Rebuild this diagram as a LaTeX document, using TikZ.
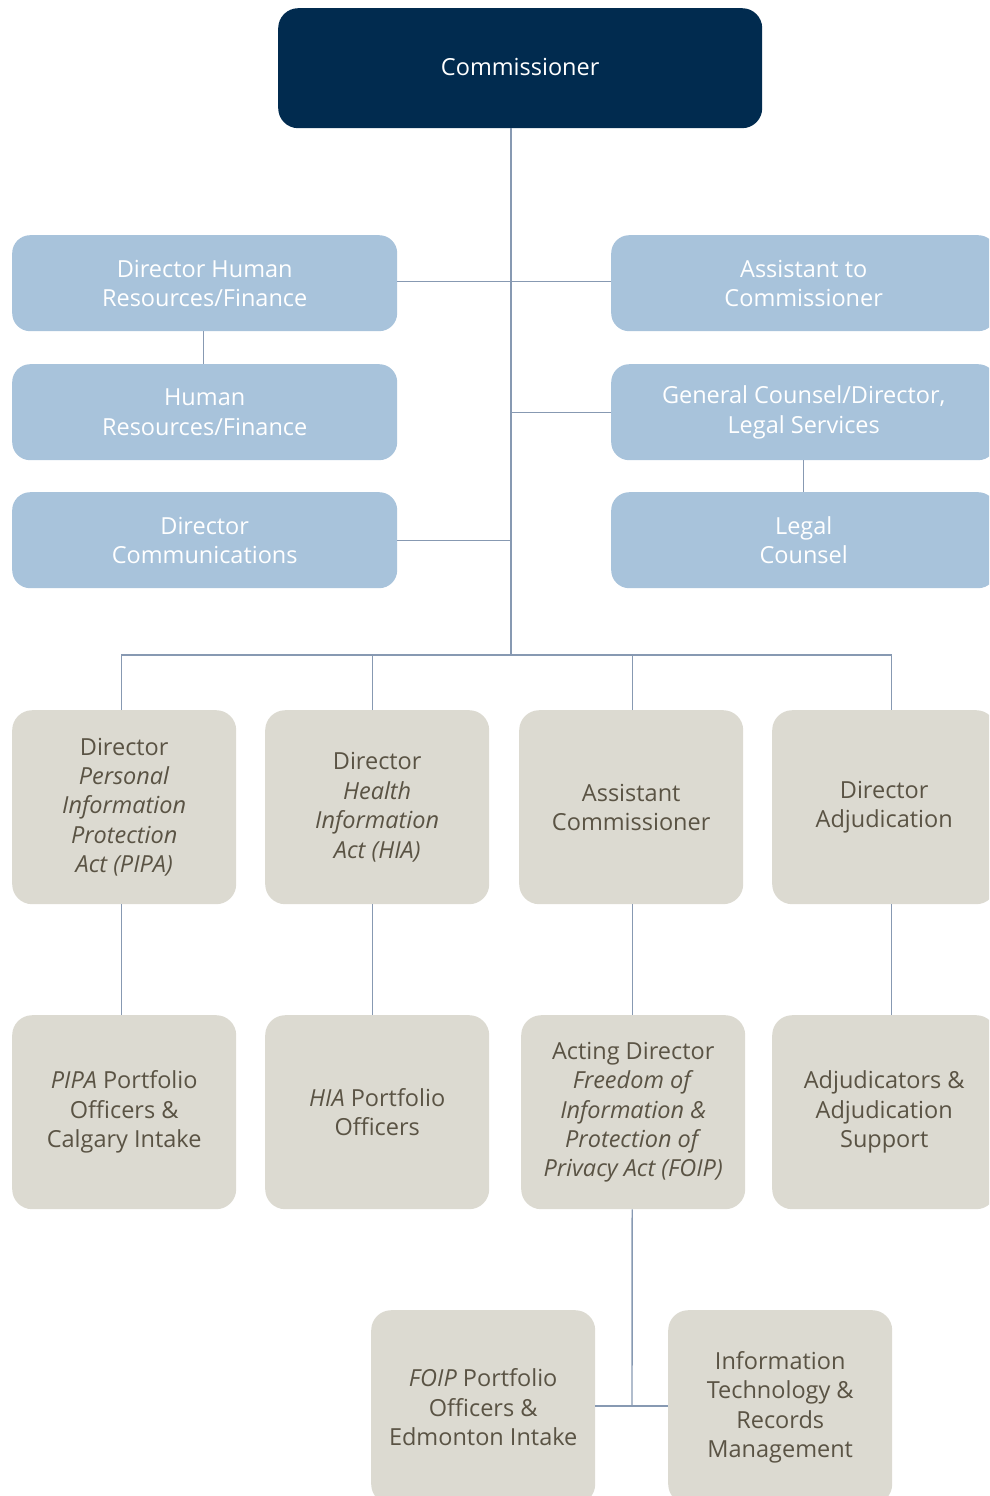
\documentclass[tikz,border=0pt]{standalone}
\usepackage{fontspec}
\setmainfont{Open Sans}
\definecolor{navy}{HTML}{012B4F}
\definecolor{lblue}{HTML}{A8C3DB}
\definecolor{lgray}{HTML}{DCDAD1}
\definecolor{tgray}{HTML}{5A5344}
\definecolor{conn}{HTML}{8799B2}
\begin{document}
\begin{tikzpicture}[x=1pt,y=-1pt,
 box/.style={rounded corners=20pt, inner sep=0pt, align=center, anchor=north west, font=\fontsize{23.5}{29.4}\selectfont},
 topbox/.style={box, fill=navy, text=white, minimum width=484pt, minimum height=120pt},
 bluebox/.style={box, fill=lblue, text=white, minimum width=385pt, minimum height=96pt, rounded corners=18pt},
 graybox/.style={box, fill=lgray, text=tgray, minimum width=224pt, minimum height=194pt},
 link/.style={draw=conn, line width=1.4pt}]
\useasboundingbox (0,0) rectangle (989,1496);
\clip (0,0) rectangle (989,1496);

\node[topbox] (comm) at (278,8) {\raisebox{3pt}{Commissioner}};

\node[bluebox] (dhr) at (12,235) {Director Human\\Resources/Finance};
\node[bluebox] (hr)  at (12,364) {Human\\Resources/Finance};
\node[bluebox] (dc)  at (12,492) {Director\\Communications};
\node[bluebox] (atc) at (611,235) {Assistant to\\Commissioner};
\node[bluebox] (gc)  at (611,364) {General Counsel/Director,\\Legal Services};
\node[bluebox] (lc)  at (611,492) {Legal\\Counsel};

\node[graybox] (pipa) at (12,710) {Director\\\textit{Personal}\\\textit{Information}\\\textit{Protection}\\\textit{Act (PIPA)}};
\node[graybox] (hia)  at (265,710) {Director\\\textit{Health}\\\textit{Information}\\\textit{Act (HIA)}};
\node[graybox] (ac)   at (519,710) {Assistant\\Commissioner};
\node[graybox] (da)   at (772,710) {Director\\Adjudication};

\node[graybox] (pipao) at (12,1015) {\textit{PIPA} Portfolio\\Officers \&\\Calgary Intake};
\node[graybox] (hiao)  at (265,1015) {\textit{HIA} Portfolio\\Officers};
\node[graybox] (foip)  at (521,1015) {Acting Director\\\textit{Freedom of}\\\textit{Information \&}\\\textit{Protection of}\\\textit{Privacy Act (FOIP)}};
\node[graybox] (adj)   at (772,1015) {Adjudicators \&\\Adjudication\\Support};

\node[graybox] (foipo) at (371,1310) {\textit{FOIP} Portfolio\\Officers \&\\Edmonton Intake};
\node[graybox] (itrm)  at (668,1310) {Information\\Technology \&\\Records\\Management};

\coordinate (bus) at (511,655);
\coordinate (join) at (632,1406);

\draw[link] (comm.south -| bus) -- (bus);
\draw[link] ([yshift=2pt]dhr.east) -- ([yshift=2pt]atc.west);
\draw[link] (gc.west) -- (gc.west -| bus);
\draw[link] (dc.east) -- (dc.east -| bus);
\draw[link] ([xshift=-1.5pt]dhr.south) -- ([xshift=-1.5pt]hr.north);
\draw[link] (gc.south) -- (lc.north);

\draw[link] ([xshift=-3pt]pipa.north) |- (bus) -| ([xshift=7pt]da.north);
\draw[link] ([xshift=-5pt]hia.north) -- ([xshift=-5pt]hia.north |- bus);
\draw[link] ([xshift=1pt]ac.north) -- ([xshift=1pt]ac.north |- bus);

\draw[link] ([xshift=-3pt]pipa.south) -- ([xshift=-3pt]pipao.north);
\draw[link] ([xshift=-5pt]hia.south) -- ([xshift=-5pt]hiao.north);
\draw[link] ([xshift=1pt]ac.south) -- ([xshift=-1pt]foip.north);
\draw[link] ([xshift=7pt]da.south) -- ([xshift=7pt]adj.north);

\draw[link] ([xshift=-1pt]foip.south) -- (join);
\draw[link] (foipo.east |- join) -- (itrm.west |- join);
\end{tikzpicture}
\end{document}
